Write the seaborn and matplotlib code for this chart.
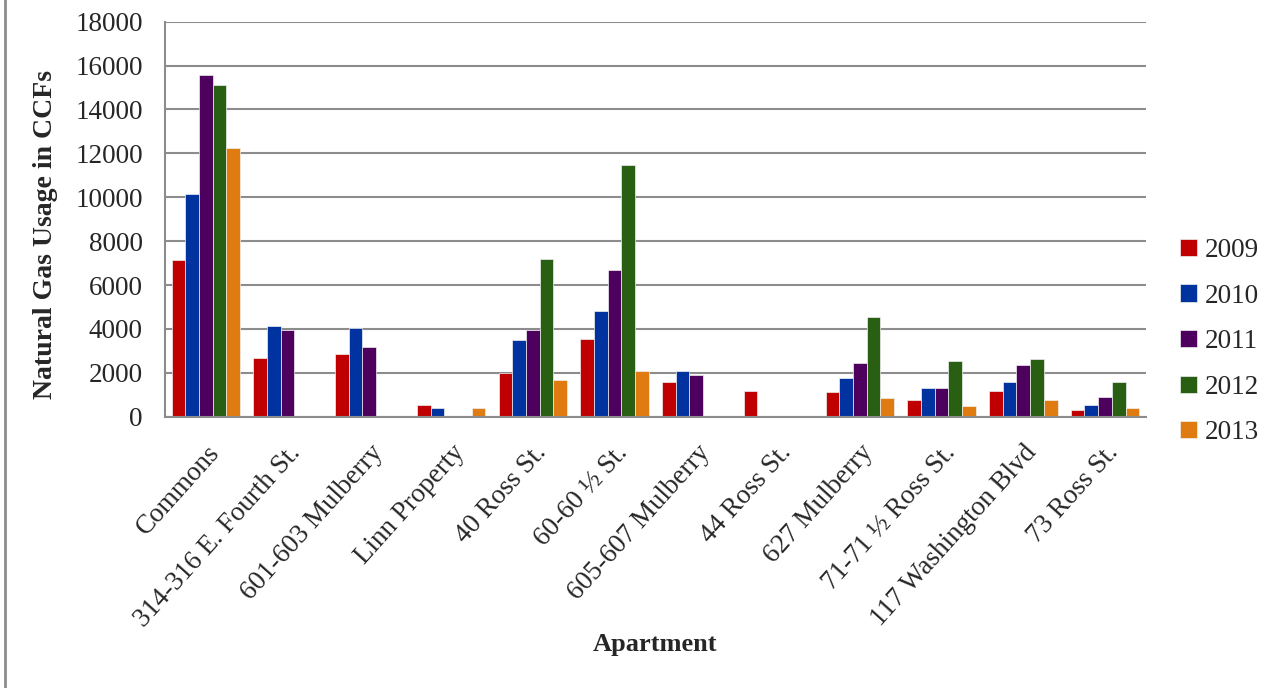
import numpy as np
import pandas as pd
import seaborn as sns
import matplotlib.pyplot as plt

# Natural gas usage (CCFs) per apartment; None = no bar
apartments = ["Commons", "314-316 E. Fourth St.", "601-603 Mulberry", "Linn Property",
              "40 Ross St.", "60-60 \u00bd St.", "605-607 Mulberry", "44 Ross St.",
              "627 Mulberry", "71-71 \u00bd Ross St.", "117 Washington Blvd", "73 Ross St."]
years = ["2009", "2010", "2011", "2012", "2013"]

use_2009 = [7130, 2680, 2860, 520, 1980, 3530, 1600, 1190, 1130, 750, 1170, 290]
use_2010 = [10170, 4130, 4050, 380, 3500, 4800, 2100, None, 1750, 1310, 1570, 520]
use_2011 = [15590, 3940, 3190, None, 3930, 6700, 1920, None, 2450, 1310, 2360, 900]
use_2012 = [15120, None, None, None, 7190, 11460, None, None, 4550, 2560, 2650, 1600]
use_2013 = [12240, None, None, 400, 1670, 2080, None, None, 870, 490, 760, 380]

colors = ["#C00000", "#0033A0", "#4E005E", "#285F12", "#DF7B10"]

series = [use_2009, use_2010, use_2011, use_2012, use_2013]
rows = []
for yr, vals in zip(years, series):
    for apt, v in zip(apartments, vals):
        if v is not None:
            rows.append({"Apartment": apt, "Year": yr, "CCF": v})
df = pd.DataFrame(rows)

sns.set_style("white")
plt.rcParams["font.family"] = ["Liberation Serif", "DejaVu Serif"]

fig = plt.figure(figsize=(12.86, 6.88), dpi=100)
ax = fig.add_axes([0.1283, 0.3943, 0.7628, 0.5742])

sns.barplot(data=df, x="Apartment", y="CCF", hue="Year", order=apartments,
            hue_order=years, palette=colors, saturation=1, width=0.84, dodge=True,
            errorbar=None, edgecolor="#f0f0f0", linewidth=0.5, ax=ax)

ax.set_ylim(0, 18000)
ax.set_yticks(np.arange(0, 18001, 2000))
ax.set_xlim(-0.5, len(apartments) - 0.5)
ax.yaxis.grid(True, color="#8c8c8c", linewidth=1.5)
ax.set_axisbelow(True)
for s in ["top", "right"]:
    ax.spines[s].set_visible(False)
for s in ["left", "bottom"]:
    ax.spines[s].set_color("#8c8c8c")
    ax.spines[s].set_linewidth(1.5)

ax.tick_params(axis="y", labelsize=19.5, length=0, pad=16)
ax.tick_params(axis="x", labelsize=19.5, length=0, pad=17)
plt.setp(ax.get_xticklabels(), rotation=48, ha="right", rotation_mode="anchor")

ax.set_ylabel("Natural Gas Usage in CCFs", fontsize=20, fontweight="bold",
              labelpad=12, y=0.46)
ax.set_xlabel("Apartment", fontsize=19, fontweight="bold", labelpad=1)

ax.legend(loc="center left", bbox_to_anchor=(1.035, 0.19), frameon=False,
          fontsize=19.5, handlelength=0.6, handleheight=0.6, handletextpad=0.3,
          labelspacing=0.76, borderpad=0, borderaxespad=0)

# thin gray frame line on the left of the figure
fig.add_artist(plt.Line2D([0.004, 0.004], [0, 1], color="#8c8c8c", linewidth=2,
                          transform=fig.transFigure))

fig.savefig("out.png", dpi=100)
